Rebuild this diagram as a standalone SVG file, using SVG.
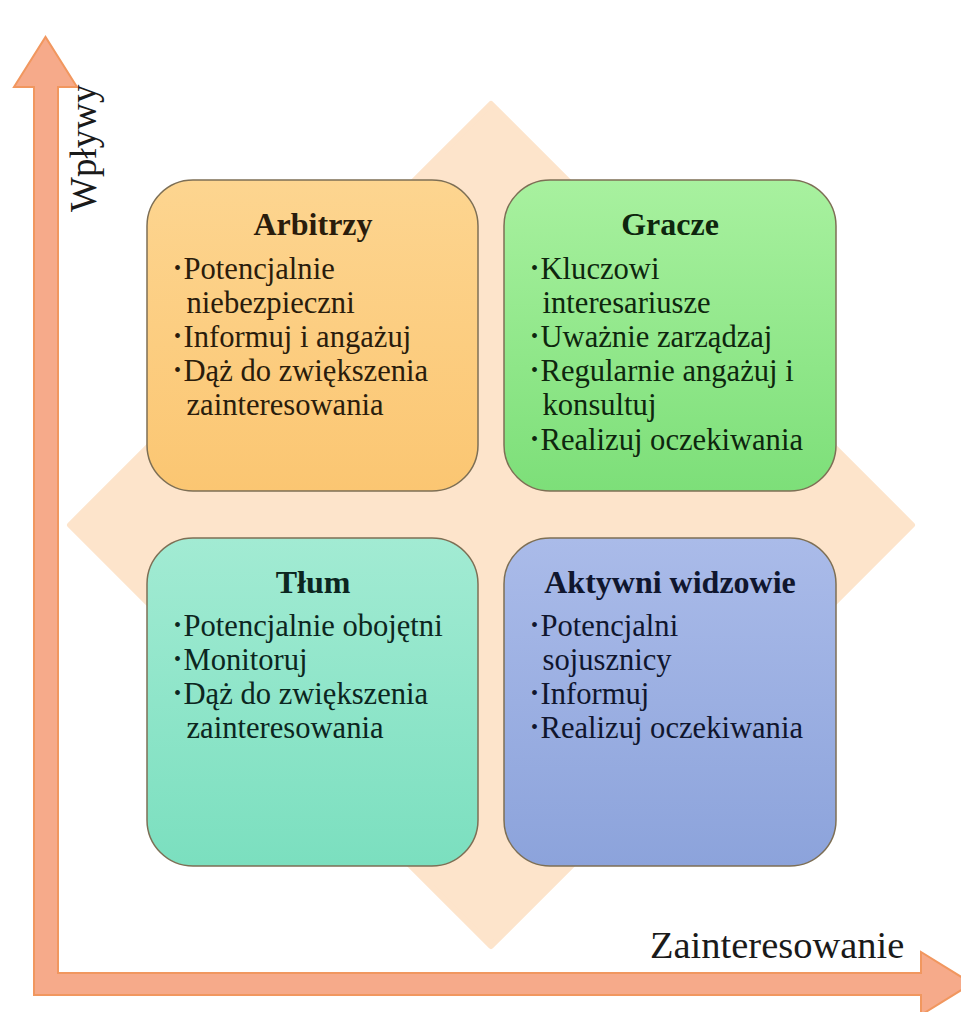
<svg xmlns="http://www.w3.org/2000/svg" width="961" height="1012" viewBox="0 0 961 1012">
  <defs>
    <linearGradient id="gOrange" x1="0" y1="0" x2="0" y2="1">
      <stop offset="0" stop-color="#FDD590"/>
      <stop offset="1" stop-color="#FBC672"/>
    </linearGradient>
    <linearGradient id="gGreen" x1="0" y1="0" x2="0" y2="1">
      <stop offset="0" stop-color="#A8F19F"/>
      <stop offset="1" stop-color="#7DDF79"/>
    </linearGradient>
    <linearGradient id="gTeal" x1="0" y1="0" x2="0" y2="1">
      <stop offset="0" stop-color="#A2EBD3"/>
      <stop offset="1" stop-color="#7BDFBF"/>
    </linearGradient>
    <linearGradient id="gBlue" x1="0" y1="0" x2="0" y2="1">
      <stop offset="0" stop-color="#AABBE9"/>
      <stop offset="1" stop-color="#8CA3DB"/>
    </linearGradient>
  </defs>
  <style>
    .box { stroke: #7D6F55; stroke-width: 1.5; }
    text { font-family: 'Liberation Serif', 'DejaVu Serif', serif; }
    .title { font-size: 32px; font-weight: bold; text-anchor: middle; }
    .item { font-size: 30.6px; }
    .dot { font-size: 20px; }
    .axis-label { fill: #1a1a1a; }
    .axis { fill: #F6AA8A; stroke: #F1975F; stroke-width: 2; stroke-linejoin: miter; }
  </style>

  <rect width="961" height="1012" fill="#ffffff"/>

  <!-- background diamond -->
  <path id="diamond" d="M491,104 L912,525 L491,946 L70,525 Z" fill="#FDE4CB" stroke="#FDE4CB" stroke-width="6" stroke-linejoin="round"/>

  <!-- axes -->
  <g id="connectors">
    <path class="axis" d="M34,87 L14,87 L45.5,37 L77,87 L58,87 L58,973 L921,973 L921,952 L972,983.5 L921,1015 L921,995 L34,995 Z"/>
  </g>

  <text id="label-y" class="axis-label" font-size="37" transform="translate(96,212) rotate(-90)">Wpływy</text>
  <text id="label-x" class="axis-label" font-size="38.5" x="650" y="958">Zainteresowanie</text>

  <g id="arbitrzy">
    <rect class="box" x="147" y="180" width="331" height="311" rx="46" fill="url(#gOrange)"/>
    <g fill="#2A1C0C">
      <text class="title" x="313" y="235">Arbitrzy</text>
      <text class="item" x="174" y="279"><tspan class="dot" dy="-4.5">•</tspan><tspan dx="2.5" dy="4.5">Potencjalnie</tspan></text>
      <text class="item" x="186.5" y="313">niebezpieczni</text>
      <text class="item" x="174" y="347"><tspan class="dot" dy="-4.5">•</tspan><tspan dx="2.5" dy="4.5">Informuj i angażuj</tspan></text>
      <text class="item" x="174" y="381"><tspan class="dot" dy="-4.5">•</tspan><tspan dx="2.5" dy="4.5">Dąż do zwiększenia</tspan></text>
      <text class="item" x="186.5" y="415">zainteresowania</text>
    </g>
  </g>

  <g id="gracze">
    <rect class="box" x="504" y="180" width="332" height="311" rx="46" fill="url(#gGreen)"/>
    <g fill="#0E260E">
      <text class="title" x="670" y="235">Gracze</text>
      <text class="item" x="531" y="279"><tspan class="dot" dy="-4.5">•</tspan><tspan dx="2.5" dy="4.5">Kluczowi</tspan></text>
      <text class="item" x="542.5" y="313">interesariusze</text>
      <text class="item" x="531" y="347"><tspan class="dot" dy="-4.5">•</tspan><tspan dx="2.5" dy="4.5">Uważnie zarządzaj</tspan></text>
      <text class="item" x="531" y="381"><tspan class="dot" dy="-4.5">•</tspan><tspan dx="2.5" dy="4.5">Regularnie angażuj i</tspan></text>
      <text class="item" x="542.5" y="415">konsultuj</text>
      <text class="item" x="531" y="450"><tspan class="dot" dy="-4.5">•</tspan><tspan dx="2.5" dy="4.5">Realizuj oczekiwania</tspan></text>
    </g>
  </g>

  <g id="tlum">
    <rect class="box" x="147" y="538" width="331" height="328" rx="46" fill="url(#gTeal)"/>
    <g fill="#0C2620">
      <text class="title" x="313" y="593">Tłum</text>
      <text class="item" x="174" y="636"><tspan class="dot" dy="-4.5">•</tspan><tspan dx="2.5" dy="4.5">Potencjalnie obojętni</tspan></text>
      <text class="item" x="174" y="670"><tspan class="dot" dy="-4.5">•</tspan><tspan dx="2.5" dy="4.5">Monitoruj</tspan></text>
      <text class="item" x="174" y="704"><tspan class="dot" dy="-4.5">•</tspan><tspan dx="2.5" dy="4.5">Dąż do zwiększenia</tspan></text>
      <text class="item" x="186.5" y="738">zainteresowania</text>
    </g>
  </g>

  <g id="aktywni-widzowie">
    <rect class="box" x="504" y="538" width="332" height="328" rx="46" fill="url(#gBlue)"/>
    <g fill="#10162E">
      <text class="title" x="670" y="593">Aktywni widzowie</text>
      <text class="item" x="531" y="636"><tspan class="dot" dy="-4.5">•</tspan><tspan dx="2.5" dy="4.5">Potencjalni</tspan></text>
      <text class="item" x="542.5" y="670">sojusznicy</text>
      <text class="item" x="531" y="704"><tspan class="dot" dy="-4.5">•</tspan><tspan dx="2.5" dy="4.5">Informuj</tspan></text>
      <text class="item" x="531" y="738"><tspan class="dot" dy="-4.5">•</tspan><tspan dx="2.5" dy="4.5">Realizuj oczekiwania</tspan></text>
    </g>
  </g>
</svg>
